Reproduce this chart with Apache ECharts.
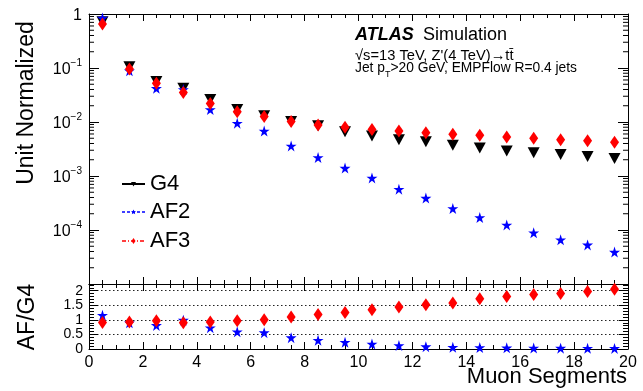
<!DOCTYPE html>
<html><head><meta charset="utf-8">
<script src="https://cdn.jsdelivr.net/npm/echarts@6/dist/echarts.min.js"></script>
<style>html,body{margin:0;padding:0;background:#fff}#c{width:643px;height:391px}</style>
</head><body><div id="c"></div>
<script>
// ---- data ----
const bins = [0.5,1.5,2.5,3.5,4.5,5.5,6.5,7.5,8.5,9.5,10.5,11.5,12.5,13.5,14.5,15.5,16.5,17.5,18.5,19.5];
const xTickLabels = ['0','2','4','6','8','10','12','14','16','18','20'];
const g4  = [0.72,0.105,0.056,0.042,0.026,0.017,0.013,0.0102,0.0085,0.0066,0.0055,0.0047,0.0043,0.0037,0.0033,0.0029,0.0027,0.0025,0.0023,0.0021];
const af2 = [0.84,0.089,0.042,0.040,0.017,0.0095,0.0068,0.0036,0.0022,0.0014,0.00092,0.00057,0.00039,0.00025,0.00017,0.000124,0.000089,0.000066,0.000053,0.000039];
const af3 = [0.65,0.096,0.052,0.035,0.022,0.0155,0.0126,0.0102,0.0088,0.0080,0.0073,0.0068,0.0063,0.0059,0.0057,0.0053,0.0050,0.0047,0.0045,0.0042];
const ratioAF2 = [1.16,0.90,0.81,0.99,0.73,0.59,0.56,0.39,0.30,0.23,0.17,0.12,0.08,0.06,0.05,0.04,0.035,0.03,0.025,0.02];
const ratioAF3 = [0.91,0.93,0.97,0.90,0.93,0.97,1.00,1.10,1.18,1.25,1.35,1.44,1.52,1.58,1.72,1.80,1.87,1.90,1.97,2.05];
const ratioTicks = [0,0.5,1,1.5,2];

const FONT = "'Liberation Sans', Arial, Helvetica, sans-serif";
const STAR = 'path://M50,0 L61.2,34.5 L97.6,34.5 L68.2,55.9 L79.4,90.5 L50,69.1 L20.6,90.5 L31.8,55.9 L2.4,34.5 L38.8,34.5 Z';

const logMinor = [];
for (let k = -5; k < 0; k++) for (let m = 2; m <= 9; m++) logMinor.push(m * Math.pow(10, k));

const chart = echarts.init(document.getElementById('c'), null, {renderer: 'canvas'});

function xAx(grid, pos, labels) {
  return {
    type: 'value', gridIndex: grid, position: pos, min: 0, max: 20, interval: 2,
    axisLine: {show: true, onZero: false, lineStyle: {color: '#000', width: 1}},
    axisTick: {show: true, inside: true, length: 7, lineStyle: {color: '#000'}},
    minorTick: {show: true, splitNumber: 4, length: 4, lineStyle: {color: '#000'}},
    splitLine: {show: false},
    axisLabel: labels ? {show: true, fontFamily: FONT, fontSize: 16, color: '#000', margin: 6,
      formatter: v => { const i = Math.round(v / 2); return Math.abs(v - i * 2) < 1e-6 ? xTickLabels[i] : ''; }} : {show: false}
  };
}
function yLog(pos, labels) {
  return {
    type: 'log', logBase: 10, gridIndex: 0, position: pos, min: 1e-5, max: 1, splitNumber: 5,
    axisLine: {show: true, onZero: false, lineStyle: {color: '#000', width: 1}},
    axisTick: {show: true, inside: true, length: 10, lineStyle: {color: '#000'}},
    splitLine: {show: false},
    axisLabel: labels ? {show: true, color: '#000', margin: 7, fontFamily: FONT,
      formatter: v => { const e = Math.round(Math.log10(v)); if (e === 0) return '{b|1}'; if (e <= -5) return ''; return '{b|10}{s|\u2212' + (-e) + '}'; },
      rich: {b: {fontSize: 16, fontFamily: FONT, color: '#000', lineHeight: 20, verticalAlign: 'bottom'},
             s: {fontSize: 10, fontFamily: FONT, color: '#000', lineHeight: 20, verticalAlign: 'top', padding: [0,0,8,0]}}} : {show: false}
  };
}
function yRatio(pos, labels) {
  return {
    type: 'value', gridIndex: 1, position: pos, min: 0, max: 2.23, interval: 0.5,
    axisLine: {show: true, onZero: false, lineStyle: {color: '#000', width: 1}},
    axisTick: {show: true, inside: true, length: 9, lineStyle: {color: '#000'}},
    minorTick: {show: true, splitNumber: 5, length: 5, lineStyle: {color: '#000'}},
    splitLine: labels ? {show: true, lineStyle: {color: '#222', type: [1.5, 2.5], width: 1}} : {show: false},
    axisLabel: labels ? {show: true, color: '#000', fontFamily: FONT, fontSize: 14, margin: 6,
      formatter: v => ratioTicks.some(t => Math.abs(t - v) < 1e-6) ? String(v) : ''} : {show: false}
  };
}

const option = {
  animation: false,
  backgroundColor: '#fff',
  grid: [
    {left: 89, top: 14, width: 539, height: 270, show: false},
    {left: 89, top: 284, width: 539, height: 65, show: false}
  ],
  xAxis: [xAx(0, 'bottom', false), xAx(0, 'top', false), xAx(1, 'bottom', true), xAx(1, 'top', false)],
  yAxis: [yLog('left', true), yLog('right', false), yRatio('left', true), yRatio('right', false)],
  series: [
    {type: 'custom', xAxisIndex: 0, yAxisIndex: 0, silent: true, clip: false, z: 1,
     data: logMinor.map(v => [0, v]),
     renderItem: (params, api) => {
       const v = api.value(1);
       const p = api.coord([0, v]), q = api.coord([20, v]);
       return {type: 'group', children: [
         {type: 'line', shape: {x1: p[0], y1: p[1], x2: p[0] + 5, y2: p[1]}, style: {stroke: '#000', lineWidth: 1}},
         {type: 'line', shape: {x1: q[0], y1: q[1], x2: q[0] - 5, y2: q[1]}, style: {stroke: '#000', lineWidth: 1}}
       ]};
     }},
    {name: 'G4', type: 'scatter', xAxisIndex: 0, yAxisIndex: 0, data: bins.map((x, i) => [x, g4[i]]),
     symbol: 'triangle', symbolRotate: 180, symbolSize: [12, 11], itemStyle: {color: '#000', opacity: 1}, z: 3},
    {name: 'AF2', type: 'scatter', xAxisIndex: 0, yAxisIndex: 0, data: bins.map((x, i) => [x, af2[i]]),
     symbol: STAR, symbolSize: 11, itemStyle: {color: '#0000ff', opacity: 1}, z: 4},
    {name: 'AF3', type: 'scatter', xAxisIndex: 0, yAxisIndex: 0, data: bins.map((x, i) => [x, af3[i]]),
     symbol: 'diamond', symbolSize: [9, 13], itemStyle: {color: '#ff0000', opacity: 1}, z: 5},
    {name: 'AF2 ratio', type: 'scatter', xAxisIndex: 2, yAxisIndex: 2, data: bins.map((x, i) => [x, ratioAF2[i]]),
     symbol: STAR, symbolSize: 11, itemStyle: {color: '#0000ff', opacity: 1}, z: 4},
    {name: 'AF3 ratio', type: 'scatter', xAxisIndex: 2, yAxisIndex: 2, data: bins.map((x, i) => [x, ratioAF3[i]]),
     symbol: 'diamond', symbolSize: [9, 13], itemStyle: {color: '#ff0000', opacity: 1}, z: 5}
  ],
  graphic: [
    // axis titles
    {type: 'text', x: 27, y: 103, rotation: Math.PI / 2, style: {text: 'Unit Normalized', font: '23px ' + FONT, fill: '#000', align: 'center', verticalAlign: 'middle'}},
    {type: 'text', x: 28, y: 317, rotation: Math.PI / 2, style: {text: 'AF/G4', font: '23px ' + FONT, fill: '#000', align: 'center', verticalAlign: 'middle'}},
    {type: 'text', x: 627, y: 377, style: {text: 'Muon Segments', font: '22px ' + FONT, fill: '#000', align: 'right', verticalAlign: 'middle'}},
    // ATLAS label
    {type: 'text', x: 355, y: 35, style: {text: 'ATLAS', font: 'italic bold 18px ' + FONT, fill: '#000', align: 'left', verticalAlign: 'middle'}},
    {type: 'text', x: 423, y: 35, style: {text: 'Simulation', font: '18px ' + FONT, fill: '#000', align: 'left', verticalAlign: 'middle'}},
    {type: 'text', x: 355, y: 56, style: {text: '\u221As=13 TeV, Z\'(4 TeV)\u2192tt\u0304', font: '14.7px ' + FONT, fill: '#000', align: 'left', verticalAlign: 'middle'}},
    {type: 'text', x: 355, y: 70, style: {text: '{a|Jet p}{s|T}{a|>20 GeV, EMPFlow R=0.4 jets}', align: 'left', verticalAlign: 'middle',
      rich: {a: {fontSize: 13.8, fontFamily: FONT, fill: '#000', color: '#000', lineHeight: 18, verticalAlign: 'top'},
             s: {fontSize: 9, fontFamily: FONT, color: '#000', lineHeight: 18, verticalAlign: 'bottom', padding: [8,0,0,0]}}}},
    // legend
    {type: 'line', shape: {x1: 122, y1: 184, x2: 145, y2: 184}, style: {stroke: '#000', lineWidth: 2}},
    {type: 'polygon', shape: {points: [[131, 182], [136, 182], [133.5, 186.5]]}, style: {fill: '#000'}},
    {type: 'text', x: 150, y: 184, style: {text: 'G4', font: '22px ' + FONT, fill: '#000', verticalAlign: 'middle'}},
    {type: 'line', shape: {x1: 122, y1: 212, x2: 145, y2: 212}, style: {stroke: '#0000ff', lineWidth: 1.5, lineDash: [3, 2]}},
    {type: 'polygon', shape: {points: [[133.5,209.5],[134.3,211.3],[136,211.3],[134.7,212.4],[135.2,214.3],[133.5,213.2],[131.8,214.3],[132.3,212.4],[131,211.3],[132.7,211.3]]}, style: {fill: '#0000ff'}},
    {type: 'text', x: 150, y: 212, style: {text: 'AF2', font: '22px ' + FONT, fill: '#000', verticalAlign: 'middle'}},
    {type: 'line', shape: {x1: 122, y1: 241, x2: 145, y2: 241}, style: {stroke: '#ff0000', lineWidth: 1.5, lineDash: [4, 2, 1, 2]}},
    {type: 'polygon', shape: {points: [[133.5, 238], [135.5, 241], [133.5, 244], [131.5, 241]]}, style: {fill: '#ff0000'}},
    {type: 'text', x: 150, y: 241, style: {text: 'AF3', font: '22px ' + FONT, fill: '#000', verticalAlign: 'middle'}}
  ]
};
chart.setOption(option);
</script>
</body></html>
